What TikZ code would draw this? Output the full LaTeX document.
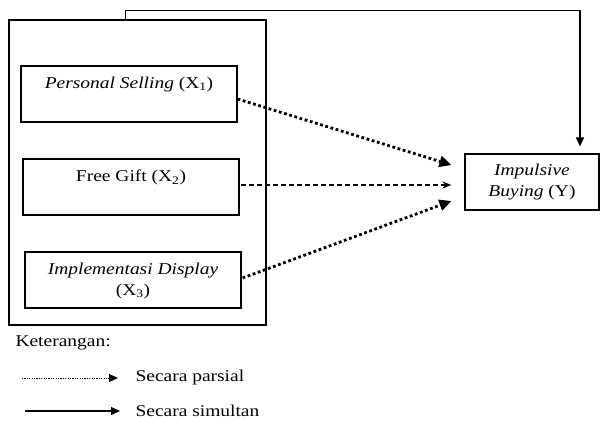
\documentclass[tikz,border=0pt]{standalone}
\usepackage{fontspec}
\setmainfont[FakeStretch=1.18]{Liberation Serif}
\usetikzlibrary{arrows.meta,calc,positioning}
\tikzset{
  var/.style={draw, line width=1.2pt, minimum width=216pt, minimum height=56pt, inner sep=0pt},
  parsial/.style={-{Triangle[length=12pt,width=11pt]}, line width=2.8pt, dash pattern=on 2.8pt off 2.6pt},
  free/.style={-{Stealth[length=9pt,width=7pt]}, line width=1.1pt, dash pattern=on 5pt off 3pt},
  simul/.style={-{Triangle[length=9pt,width=8pt]}, line width=1.3pt},
}
\begin{document}
\begin{tikzpicture}[x=1pt,y=-1pt,font=\fontsize{16.5}{21}\selectfont]
  \useasboundingbox (0,0) rectangle (600,421);
  %kotak luar
  \node[draw, line width=1.3pt, minimum width=257pt, minimum height=305pt, inner sep=0pt] (grup) at (137.5,172.5) {};
  %variabel X
  \node[var, label={[anchor=north, yshift=-8pt]north:{\textit{Personal Selling} (X\textsubscript{1})}}] (x1) at (129,94) {};
  \node[var, label={[anchor=north, yshift=-8pt]north:{Free Gift (X\textsubscript{2})}}] (x2) at (131,187) {};
  \node[var, label={[anchor=north, yshift=-8pt, align=center]north:{\textit{Implementasi Display}\\(X\textsubscript{3})}}] (x3) at (133,280) {};
  %variabel Y
  \node[draw, line width=1.2pt, minimum width=134pt, minimum height=56pt, align=center] (y) at (532,182) {\textit{Impulsive}\\\textit{Buying} (Y)};
  %panah parsial
  \draw[parsial] ($(x1.east)+(0,5)$) -- ($(y.west)+(-13,-17)$);
  \draw[free] ($(x2.east)+(1,-2)$) -- ($(y.west)+(-13,3)$);
  \draw[parsial] ($(x3.east)+(1,-2)$) -- ($(y.west)+(-13,19)$);
  %panah simultan
  \draw[simul] ($(grup.north west)+(117,0)$) -- ++(0,-9) -| ($(y.north)+(48,-7)$);
  %keterangan
  \node[anchor=west] (ket) at (12,343) {Keterangan:};
  \coordinate (pa0) at (22,378);
  \coordinate (pa1) at (118,378);
  \draw[-{Triangle[length=9pt,width=8pt]}, line width=1pt, dash pattern=on 1.2pt off 1.2pt] (pa0) -- (pa1);
  \node[anchor=west] (par) at (132,378) {Secara parsial};
  \coordinate (si0) at (25,411);
  \coordinate (si1) at (120,411);
  \draw[simul] (si0) -- (si1);
  \node[anchor=west] (sim) at (132,411) {Secara simultan};
\end{tikzpicture}
\end{document}
